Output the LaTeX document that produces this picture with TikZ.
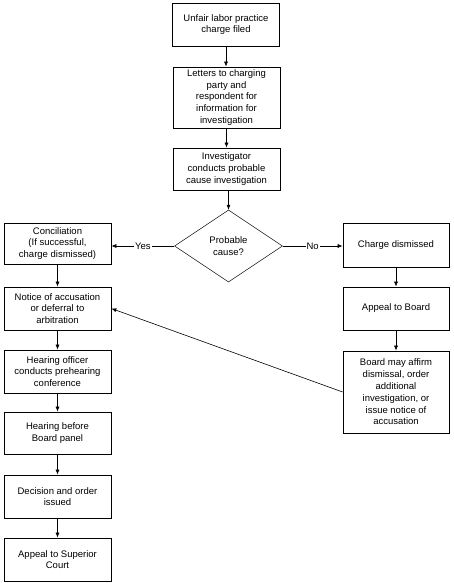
\documentclass[tikz,border=0pt]{standalone}
\usepackage{fontspec}
\setmainfont{Liberation Sans}
\usetikzlibrary{shapes.geometric}
\usetikzlibrary{arrows.meta}

\begin{document}
\begin{tikzpicture}[x=1pt,y=-1pt,font=\fontsize{9.5}{11.8}\selectfont,
  stage/.style={rectangle,draw=black,line width=0.7pt,minimum width=107pt,inner sep=1pt,align=center},
  query/.style={diamond,draw=black,line width=0.5pt,shape aspect=1.5,minimum width=108pt,minimum height=72pt,inner sep=0pt,align=center},
  flow/.style={-{Latex[length=5pt,width=4pt]},line width=0.6pt},
  answer/.style={fill=white,inner sep=1pt}]
\useasboundingbox (0,0) rectangle (453,583);

\node[stage,minimum height=43pt] (filed) at (226,24.5) {Unfair labor practice\\charge filed};
\node[stage,minimum height=61pt] (letters) at (226.5,97.5) {Letters to charging\\party and\\respondent for\\information for\\investigation};
\node[stage,minimum height=42pt] (invest) at (226.5,169) {Investigator\\conducts probable\\cause investigation};
\node[query] (cause) at (228.5,246) {Probable\\cause?};

\node[stage,minimum height=41pt] (concil) at (57.5,243.5) {Conciliation\\(If successful,\\charge dismissed)};
\node[stage,minimum height=43pt] (notice) at (57.5,308.5) {Notice of accusation\\or deferral to\\arbitration};
\node[stage,minimum height=43pt] (officer) at (57.5,371.5) {Hearing officer\\conducts prehearing\\conference};
\node[stage,minimum height=42pt] (panel) at (57.5,433) {Hearing before\\Board panel};
\node[stage,minimum height=43pt] (decision) at (57.5,496.5) {Decision and order\\issued};
\node[stage,minimum height=43pt] (superior) at (57.5,559.5) {Appeal to Superior\\Court};

\node[stage,minimum width=106pt,minimum height=44pt] (dismissed) at (396,245.5) {Charge dismissed};
\node[stage,minimum width=106pt,minimum height=43pt] (appeal) at (396,308.5) {Appeal to Board};
\node[stage,minimum width=106pt,minimum height=82pt] (affirm) at (396,392) {Board may affirm\\dismissal, order\\additional\\investigation, or\\issue notice of\\accusation};

% main line
\draw[flow] (filed.south) -- (filed.south |- letters.north);
\draw[flow] (letters.south) -- (letters.south |- invest.north);
\draw[flow] (cause.north |- invest.south) -- (cause.north);
\draw[flow] (cause.west) -- node[answer] {Yes} (cause.west -| concil.east);
\draw[flow] (cause.east) -- node[answer] {No} (cause.east -| dismissed.west);

% left column
\draw[flow] (concil.south) -- (notice.north);
\draw[flow] (notice.south) -- (officer.north);
\draw[flow] (officer.south) -- (panel.north);
\draw[flow] (panel.south) -- (decision.north);
\draw[flow] (decision.south) -- (superior.north);

% right column
\draw[flow] (dismissed.south) -- (appeal.north);
\draw[flow] (appeal.south) -- (affirm.north);
\draw[flow] (affirm.west) -- (notice.east);

\end{tikzpicture}
\end{document}
